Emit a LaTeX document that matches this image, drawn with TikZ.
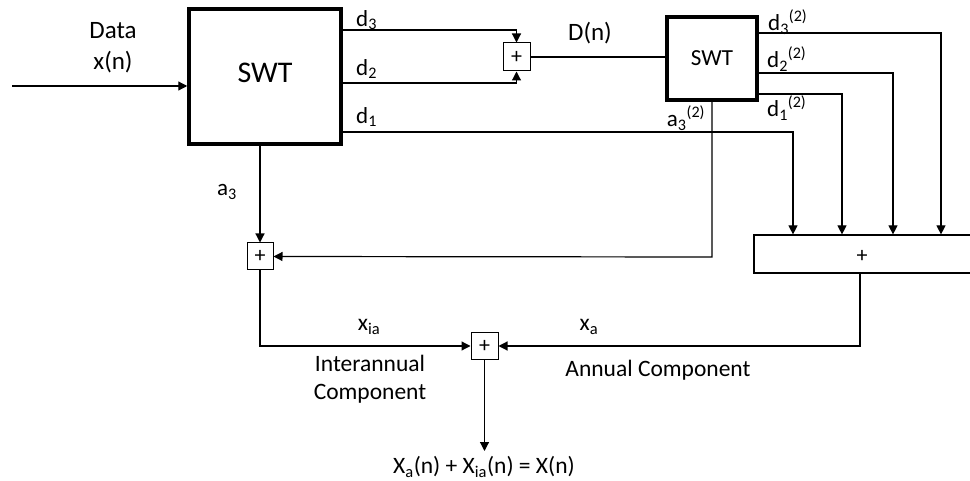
\documentclass[tikz,border=0pt]{standalone}
\usepackage{fontspec}
\setmainfont{Carlito}
\usetikzlibrary{arrows.meta}
\begin{document}
\begin{tikzpicture}[x=1pt,y=-1pt,
  wire/.style={line width=1.2pt},
  arr/.style={wire,-{Triangle[length=9pt,width=9pt]}},
  thickbox/.style={draw,line width=3.5pt,inner sep=0pt},
  sumbox/.style={draw,line width=1pt,inner sep=0pt,font=\fontsize{22}{24}\selectfont},
  lbl/.style={inner sep=0pt,font=\fontsize{23.5}{28}\selectfont},
  dlbl/.style={inner sep=0pt,anchor=west,font=\fontsize{23}{26}\selectfont}]
\useasboundingbox (0,0) rectangle (970,481);
% blocks
\node[thickbox,minimum width=152pt,minimum height=135pt] (swt1) at (265,76.5) {};
\node[inner sep=0pt,font=\fontsize{30}{34}\selectfont] (swt1t) at (265,73) {SWT};
\node[thickbox,minimum width=90pt,minimum height=83pt,font=\fontsize{23}{26}\selectfont] (swt2) at (712,58.5) {SWT};
\node[sumbox,minimum width=27pt,minimum height=28pt] (add1) at (516.5,57) {+};
\node[sumbox,minimum width=26pt,minimum height=27pt] (add2) at (260,256.5) {+};
\node[sumbox,minimum width=27pt,minimum height=26pt] (add3) at (484.5,346) {+};
\node[draw,line width=1.2pt,inner sep=0pt,minimum width=222pt,minimum height=38pt,font=\fontsize{22}{24}\selectfont] (big) at (865,254) {};
\node[inner sep=0pt,font=\fontsize{22}{24}\selectfont] (bigt) at (862,256) {+};
% coordinates
\coordinate (in) at (12,86);
\coordinate (j3) at (516.5,30);
\coordinate (j2) at (516.5,83);
\coordinate (j1) at (793,132);
\coordinate (k3) at (941,33);
\coordinate (k2) at (893,73);
\coordinate (k1) at (842,94);
\coordinate (ka) at (712,257);
\coordinate (m2) at (260,346);
\coordinate (mb) at (860,346);
\coordinate (out) at (484.5,451);
% connectors
\draw[arr] (in) -- (in -| swt1.west);
\draw[arr] (swt1.east |- j3) -- (j3) -- (add1.north);
\draw[arr] (swt1.east |- j2) -- (j2) -- (add1.south);
\draw[wire] (add1.east) -- (swt2.west |- add1.east);
\draw[arr] (swt1.east |- j1) -- (j1) -- (j1 |- big.north);
\draw[arr] (swt2.east |- k3) -- (k3) -- (k3 |- big.north);
\draw[arr] (swt2.east |- k2) -- (k2) -- (k2 |- big.north);
\draw[arr] (swt2.east |- k1) -- (k1) -- (k1 |- big.north);
\draw[arr] (swt1.south -| add2) -- (add2.north);
\draw[arr] (ka |- swt2.south) -- (ka) -- (add2.east);
\draw[arr] (add2.south) -- (m2) -- (add3.west);
\draw[arr] (big.south -| mb) -- (mb) -- (add3.east);
\draw[arr] (add3.south) -- (out);
% labels
\node[lbl,font=\fontsize{25}{30}\selectfont] (data) at (113,31) {Data};
\node[lbl,font=\fontsize{25}{30}\selectfont] (xn) at (113,62) {x(n)};
\node[dlbl] (ld3) at (356,20) {d\textsubscript{3}};
\node[dlbl] (ld2) at (356,69) {d\textsubscript{2}};
\node[dlbl] (ld1) at (356,117) {d\textsubscript{1}};
\node[lbl,font=\fontsize{25}{30}\selectfont] (dn) at (590,33) {D(n)};
\node[dlbl] (l23) at (768,22) {d\textsubscript{3}\textsuperscript{(2)}};
\node[dlbl] (l22) at (767,59) {d\textsubscript{2}\textsuperscript{(2)}};
\node[dlbl] (l21) at (767,108) {d\textsubscript{1}\textsuperscript{(2)}};
\node[dlbl,anchor=center] (la32) at (686,118) {a\textsubscript{3}\textsuperscript{(2)}};
\node[dlbl,anchor=center] (la3) at (227,192) {a\textsubscript{3}};
\node[lbl] (lxia) at (369,327) {x\textsubscript{ia}};
\node[lbl] (lxa) at (589,327) {x\textsubscript{a}};
\node[lbl,align=center] (inter) at (370,379) {Interannual\\Component};
\node[lbl] (annual) at (658,370) {Annual Component};
\node[lbl] (res) at (484,467) {X\textsubscript{a}(n) + X\textsubscript{ia}(n) = X(n)};
\end{tikzpicture}
\end{document}
